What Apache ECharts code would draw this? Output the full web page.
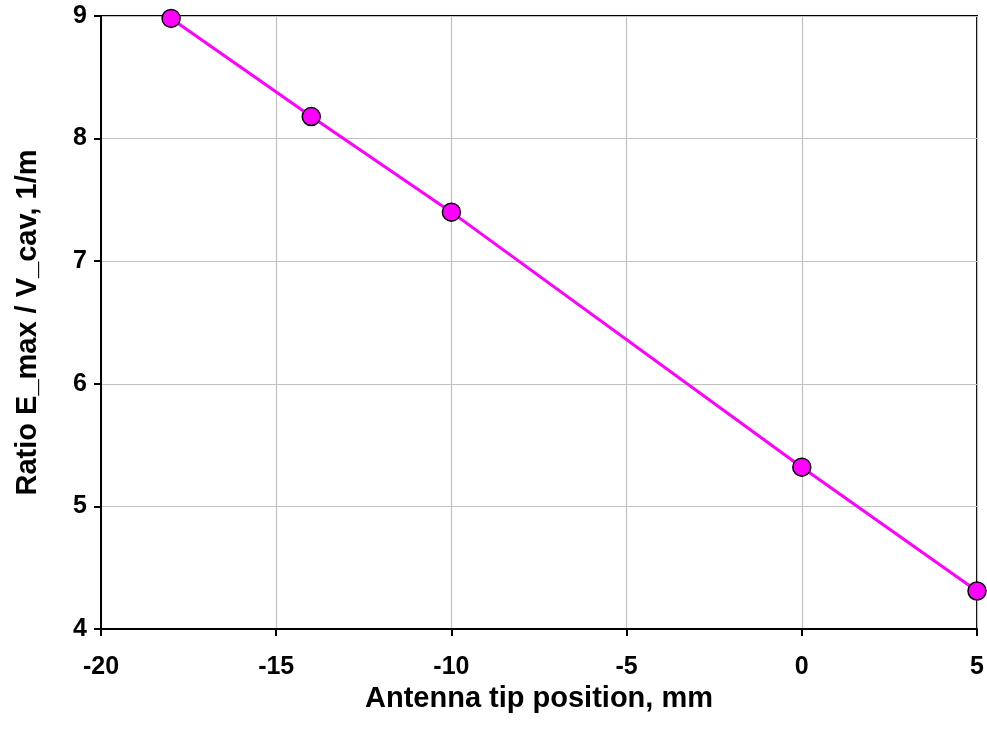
<!DOCTYPE html>
<html>
<head>
<meta charset="utf-8">
<style>
  html, body { margin: 0; padding: 0; background: #fff; }
  #chart { width: 987px; height: 738px; }
</style>
<script src="https://cdn.jsdelivr.net/npm/echarts@6/dist/echarts.min.js"></script>
</head>
<body>
<div id="chart"></div>
<script>
// Antenna tip position (mm) and the field ratio at each position
const tipPosition = [-18, -14, -10, 0, 5];
const ratioValues = [8.98, 8.18, 7.40, 5.32, 4.31];

const xTitle = 'Antenna tip position, mm';
const yTitle = 'Ratio E_max / V_cav, 1/m';

const font = '"Liberation Sans", Arial, sans-serif';

const chart = echarts.init(document.getElementById('chart'));
chart.setOption({
  animation: false,
  backgroundColor: '#ffffff',
  grid: {
    left: 101, right: 10, top: 16, bottom: 109,
    show: true, borderColor: '#000', borderWidth: 2, backgroundColor: 'transparent'
  },
  xAxis: {
    type: 'value', min: -20, max: 5, interval: 5,
    name: xTitle, nameLocation: 'middle', nameGap: 48,
    nameTextStyle: { fontFamily: font, fontWeight: 'bold', fontSize: 29, color: '#000' },
    axisLine: { show: true, onZero: false, lineStyle: { color: '#000', width: 2 } },
    axisTick: { show: true, length: 7, lineStyle: { color: '#000', width: 2 } },
    axisLabel: { margin: 26, fontFamily: font, fontWeight: 'bold', fontSize: 25, color: '#000' },
    splitLine: { show: true, lineStyle: { color: '#c0c0c0', width: 1.2 } }
  },
  yAxis: {
    type: 'value', min: 4, max: 9, interval: 1,
    name: yTitle, nameLocation: 'middle', nameGap: 59,
    nameTextStyle: { fontFamily: font, fontWeight: 'bold', fontSize: 29, color: '#000' },
    axisLine: { show: true, onZero: false, lineStyle: { color: '#000', width: 2 } },
    axisTick: { show: true, length: 7, lineStyle: { color: '#000', width: 2 } },
    axisLabel: { margin: 14, fontFamily: font, fontWeight: 'bold', fontSize: 25, color: '#000' },
    splitLine: { show: true, lineStyle: { color: '#c0c0c0', width: 1.2 } }
  },
  series: [{
    type: 'line',
    data: tipPosition.map((x, i) => [x, ratioValues[i]]),
    lineStyle: { color: '#ff00ff', width: 3 },
    symbol: 'circle', symbolSize: 18,
    itemStyle: { color: '#ff00ff', borderColor: '#000', borderWidth: 1.5 },
    clip: false
  }]
});
</script>
</body>
</html>
